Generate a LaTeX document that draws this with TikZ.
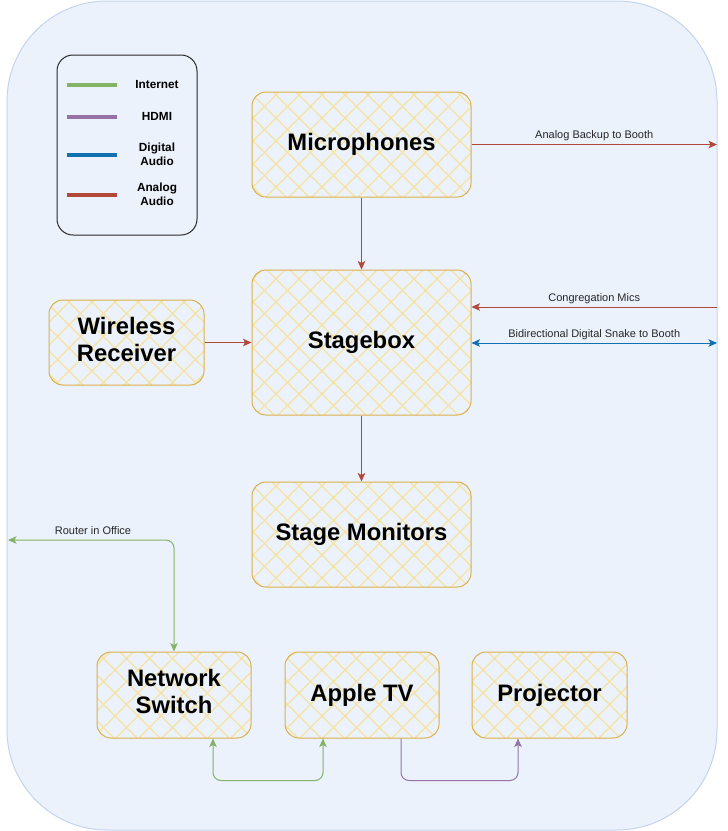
\documentclass[tikz,border=0pt]{standalone}
\usepackage{fontspec}
\setmainfont{Liberation Sans}
\usetikzlibrary{arrows.meta,patterns.meta,calc}
\definecolor{bgfill}{RGB}{236,242,252}
\definecolor{bgdraw}{RGB}{196,212,238}
\definecolor{boxdraw}{RGB}{218,176,74}
\definecolor{hatchc}{RGB}{246,226,160}
\definecolor{cgreen}{RGB}{130,179,102}
\definecolor{cpurple}{RGB}{150,115,166}
\definecolor{cblue}{RGB}{16,112,176}
\definecolor{cred}{RGB}{178,72,58}
\definecolor{legdraw}{RGB}{40,40,40}
\tikzdeclarepattern{
  name=xhatch,
  type=uncolored,
  bottom left={(-1pt,-1pt)},
  top right={(24pt,24pt)},
  tile size={(23pt,23pt)},
  code={
    \draw[line width=1.3pt] (-1pt,-1pt) -- (24pt,24pt);
    \draw[line width=1.3pt] (-1pt,24pt) -- (24pt,-1pt);
  }
}
\tikzset{
  box/.style={draw=boxdraw, line width=1pt, rounded corners=14pt, pattern={xhatch}, pattern color=hatchc,
    font=\bfseries\fontsize{23.8}{27}\selectfont, align=center, inner sep=0pt},
  conn/.style={line width=1pt, -{Stealth[length=8.5pt,width=7.5pt,inset=2pt]}},
  bothconn/.style={line width=1pt, {Stealth[length=8.5pt,width=7.5pt,inset=2pt]}-{Stealth[length=8.5pt,width=7.5pt,inset=2pt]}},
  elabel/.style={font=\fontsize{11}{12}\selectfont, text=black!85, inner sep=2pt},
  legtext/.style={font=\bfseries\fontsize{11.8}{14}\selectfont, align=center},
  legline/.style={line width=4pt},
}
\begin{document}
\begin{tikzpicture}[x=1pt,y=-1pt]
\useasboundingbox (0,0) rectangle (728,831);
\draw[draw=bgdraw, fill=bgfill, line width=1pt, rounded corners=100pt] (7,1) rectangle (717,830);

% legend
\node[draw=legdraw, line width=1pt, rounded corners=16pt, minimum width=140pt, minimum height=180pt] (legend) at (127,145) {};
\coordinate (l1a) at (67,85); \coordinate (l1b) at (117,85);
\coordinate (l2a) at (67,117); \coordinate (l2b) at (117,117);
\coordinate (l3a) at (67,155); \coordinate (l3b) at (117,155);
\coordinate (l4a) at (67,195); \coordinate (l4b) at (117,195);
\draw[legline, cgreen] (l1a) -- (l1b);
\draw[legline, cpurple] (l2a) -- (l2b);
\draw[legline, cblue] (l3a) -- (l3b);
\draw[legline, cred] (l4a) -- (l4b);
\node[legtext] (lt1) at (157,84) {Internet};
\node[legtext] (lt2) at (157,116) {HDMI};
\node[legtext] (lt3) at (157,154) {Digital\\Audio};
\node[legtext] (lt4) at (157,194) {Analog\\Audio};

% nodes
\node[box, minimum width=219pt, minimum height=105pt] (mic) at (361.5,144.5) {Microphones};
\node[box, minimum width=219pt, minimum height=145pt] (sb) at (361.5,342.5) {Stagebox};
\node[box, minimum width=155pt, minimum height=85pt] (wr) at (126.5,342.5) {\raisebox{2pt}{\begin{tabular}{@{}c@{}}Wireless\\Receiver\end{tabular}}};
\node[box, minimum width=219pt, minimum height=105pt] (sm) at (361.5,534.5) {Stage Monitors};
\node[box, minimum width=154pt, minimum height=86pt] (ns) at (174,695) {\raisebox{2pt}{\begin{tabular}{@{}c@{}}Network\\Switch\end{tabular}}};
\node[box, minimum width=154pt, minimum height=86pt] (atv) at (362,695) {Apple TV};
\node[box, minimum width=155pt, minimum height=86pt] (proj) at (549.5,695) {Projector};

\coordinate (booth1) at (717,144.5);
\coordinate (booth2) at (717,307);
\coordinate (booth3) at (717,343);
\coordinate (office) at (8,540);

% connectors
\draw[conn, cred] (mic.east) -- (booth1) node[elabel, midway, above=1pt] {Analog Backup to Booth};
\draw[conn, cred] (mic.south) -- (sb.north);
\draw[conn, cred] (sb.south) -- (sm.north);
\draw[conn, cred] (wr.east) -- (sb.west);
\draw[conn, cred] (booth2) -- (sb.east |- booth2) node[elabel, midway, above=1pt] {Congregation Mics};
\draw[bothconn, cblue] (sb.east |- booth3) -- (booth3) node[elabel, midway, above=1pt] {Bidirectional Digital Snake to Booth};
\draw[bothconn, cgreen, rounded corners=8pt] (office) -- (ns.north |- office) -- (ns.north);
\node[elabel] (routerlbl) at (93,531) {Router in Office};
\draw[bothconn, cgreen, rounded corners=8pt] ([xshift=39pt]ns.south) -- ++(0,42) -| ([xshift=-39pt]atv.south);
\draw[conn, cpurple, rounded corners=8pt] ([xshift=39pt]atv.south) -- ++(0,42) -| ([xshift=-31.5pt]proj.south);
\end{tikzpicture}
\end{document}
